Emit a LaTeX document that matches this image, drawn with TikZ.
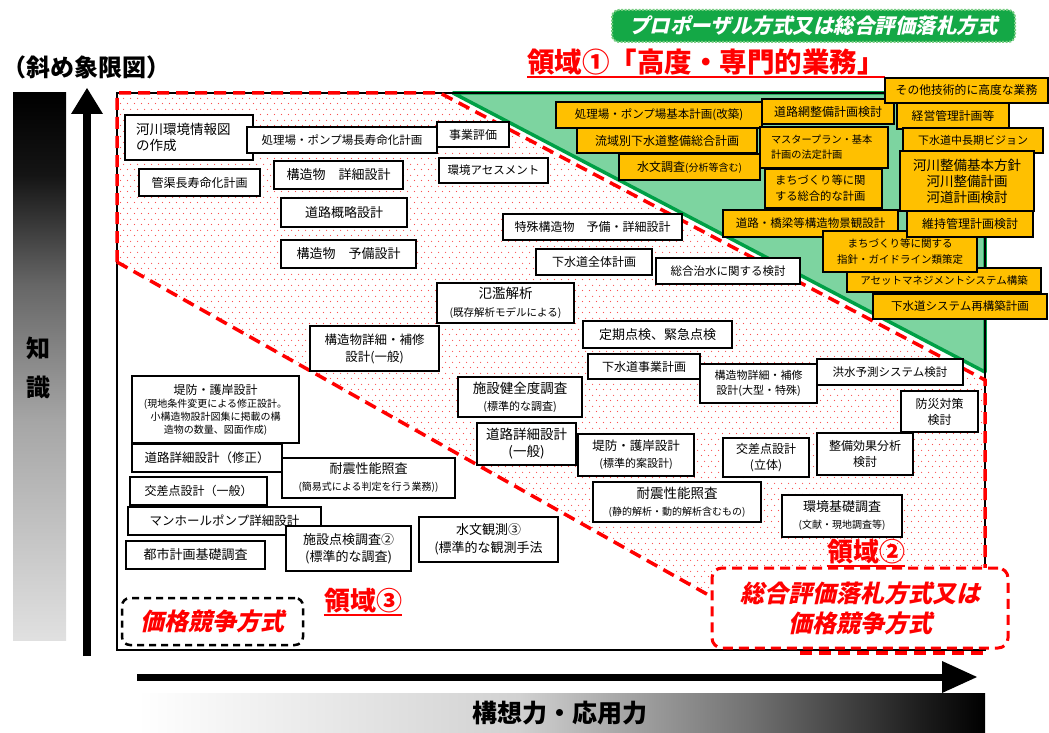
\documentclass[tikz,border=0pt]{standalone}
\usepackage{fontspec}
\setmainfont{Noto Sans CJK JP}
\newfontfamily\jpsl{Noto Sans CJK JP}[FakeSlant=0.22]
\usetikzlibrary{patterns.meta}
\definecolor{byel}{RGB}{255,192,0}
\definecolor{mint}{RGB}{125,212,160}
\definecolor{dgreen}{RGB}{0,160,70}
\definecolor{tgreen}{RGB}{20,168,70}
\definecolor{tgreenb}{RGB}{120,205,130}
\definecolor{rred}{RGB}{255,0,0}
\definecolor{dotred}{RGB}{250,80,80}
\pgfdeclareverticalshading{vbarshade}{100bp}{color(0bp)=(black!12); color(25bp)=(black!12); color(45bp)=(black!35); color(57.5bp)=(black!60); color(67.5bp)=(black!92); color(75bp)=(black); color(100bp)=(black)}
\pgfdeclarehorizontalshading{hbarshade}{100bp}{color(0bp)=(white); color(25bp)=(white); color(47.5bp)=(black!18); color(61bp)=(black!55); color(71bp)=(black!88); color(75bp)=(black); color(100bp)=(black)}
\tikzdeclarepattern{
  name=pdots,
  type=uncolored,
  bottom left={(0pt,0pt)},
  top right={(7pt,11pt)},
  tile size={(7pt,11pt)},
  code={
    \pgfpathcircle{\pgfpoint{1.75pt}{2.75pt}}{0.7pt}
    \pgfpathcircle{\pgfpoint{5.25pt}{8.25pt}}{0.7pt}
    \pgfusepath{fill}
  }
}
\newcommand{\fsz}[2]{\fontsize{#1}{#2}\selectfont}
\newcommand{\bx}[7]{\node[#1, minimum width={(#5-#3)*1pt}, minimum height={(#6-#4)*1pt}] (#2) at ({(#3+#5)/2},{(#4+#6)/2}) {#7};}
\begin{document}
\begin{tikzpicture}[x=1pt,y=-1pt,
  wb/.style={draw=black, line width=1.3pt, fill=white, inner sep=1pt, align=center},
  yb/.style={wb, fill=byel},
  lbox/.style 2 args={align=left, inner xsep=#1pt, text width=#2pt},
  rd/.style={rred, line width=3.5pt, dash pattern=on 12pt off 7pt},
  ul/.style={rred, line width=1.8pt},
  big/.style={font=\bfseries\fsz{#1}{30}}
]
\useasboundingbox (0,0) rectangle (1049,733);
% gradient bars
\shade[shading=vbarshade] (13,93) rectangle (66,640);
\node[big=24] (zhi) at (39,348) {知};
\node[big=24] (shiki) at (39,387) {識};
\shade[shading=hbarshade] (137,693) rectangle (985,733);
\node[big=25] (kousou) at (560,713) {構想力・応用力};
% axes
\coordinate (vbot) at (87,656);
\coordinate (vend) at (87,108);
\coordinate (vtip) at (87,88);
\draw[line width=8pt] (vbot) -- (vend);
\fill (71,114) -- (vtip) -- (103,114) -- cycle;
\coordinate (hbeg) at (137,677);
\coordinate (hend) at (950,677);
\coordinate (htip) at (977,677);
\draw[line width=7pt] (hbeg) -- (hend);
\fill (942,661) -- (htip) -- (942,693) -- cycle;
% regions
\fill[pattern=pdots, pattern color=dotred] (117,93) -- (440,93) -- (985,380) -- (985,568) -- (712,568) -- (712,597) -- (117,262) -- cycle;
\fill[mint] (453,93) -- (985,93) -- (985,372) -- cycle;
\draw[dgreen, line width=3.5pt, line join=round] (985,372) -- (453,93) -- (985,93) -- cycle;
\draw[line width=2pt] (117,93) rectangle (985,650);
\draw[rd] (117,262) -- (117,93) -- (440,93) -- (985,380) -- (985,568);
\draw[rd] (117,262) -- (712,597);
\draw[rd] (800,653) -- (985,653);
% titles
\node[draw=tgreenb, line width=2pt, dash pattern=on 2pt off 1.5pt, fill=tgreen, rounded corners=7pt, minimum width=403, minimum height=32, text=white, font=\jpsl\bfseries\fsz{20.5}{24}] (ttl) at (813.5,26) {プロポーザル方式又は総合評価落札方式};
\node[big=24, inner sep=0] (title2) at (86,67) {（斜め象限図）};
\node[anchor=west, text=rred, inner sep=0, font=\bfseries\fsz{27.5}{30}] (r1) at (527,62) {領域①「高度・専門的業務」};
\draw[ul] ([yshift=-1.5pt]r1.south west) -- ([yshift=-1.5pt]r1.south east);
\node[text=rred, inner sep=0, font=\bfseries\fsz{26}{30}] (r3) at (363,601) {領域③};
\draw[ul] ([yshift=-1.5pt]r3.south west) -- ([yshift=-1.5pt]r3.south east);
\node[text=rred, inner sep=0, font=\bfseries\fsz{26}{30}] (r2) at (866,552) {領域②};
\draw[ul] ([yshift=-1.5pt]r2.south west) -- ([yshift=-1.5pt]r2.south east);
\node[draw=black, line width=2.5pt, dash pattern=on 7pt off 5pt, rounded corners=8pt, minimum width=181, minimum height=47, text=rred, font=\jpsl\bfseries\fsz{24}{28}] (p3) at (212.5,621.5) {価格競争方式};
\node[draw=rred, line width=3pt, dash pattern=on 10pt off 6pt, rounded corners=10pt, fill=white, minimum width=296, minimum height=80, align=center, text=rred, font=\jpsl\bfseries\fsz{24}{30}] (p2) at (860,608) {総合評価落札方式又は\\価格競争方式};
% white boxes
\bx{wb,lbox={11}{106},font=\fsz{13.5}{16}}{b1}{125}{115}{253}{160}{河川環境情報図\\の作成}
\bx{wb,font=\fsz{11.5}{14}}{b2}{247}{127}{437}{153}{処理場・ポンプ場長寿命化計画}
\bx{wb,font=\fsz{12}{15}}{b3}{139}{169}{260}{196}{管渠長寿命化計画}
\bx{wb,font=\fsz{13}{16}}{b4}{274}{161}{403}{189}{構造物　詳細設計}
\bx{wb,font=\fsz{13}{16}}{b5}{281}{198}{407}{227}{道路概略設計}
\bx{wb,font=\fsz{13}{16}}{b6}{281}{240}{416}{268}{構造物　予備設計}
\bx{wb,font=\fsz{12}{15}}{b7}{437}{122}{509}{147}{事業評価}
\bx{wb,font=\fsz{11.5}{14}}{b8}{439}{158}{548}{183}{環境アセスメント}
\bx{wb,font=\fsz{12}{15}}{b9}{503}{214}{682}{240}{特殊構造物　予備・詳細設計}
\bx{wb,font=\fsz{12}{15}}{b10}{536}{249}{652}{275}{下水道全体計画}
\bx{wb,font=\fsz{11.5}{14}}{b11}{656}{258}{800}{284}{総合治水に関する検討}
\bx{wb,font=\fsz{12.5}{17}}{b27}{310}{326}{439}{371}{構造物詳細・補修\\設計(一般)}
\bx{wb,font=\fsz{12}{13}}{b28}{132}{376}{299}{443}{堤防・護岸設計\\{\fsz{10}{12}(現地条件変更による修正設計。}\\{\fsz{10}{12}小構造物設計図集に掲載の構}\\{\fsz{10}{12}造物の数量、図面作成)}}
\bx{wb,font=\fsz{12.5}{15}}{b29}{132}{444}{282}{472}{道路詳細設計（修正）}
\bx{wb,font=\fsz{13}{17}}{b30}{282}{458}{455}{498}{耐震性能照査\\{\fsz{10}{12}(簡易式による判定を行う業務))}}
\bx{wb,font=\fsz{12}{15}}{b31}{130}{477}{267}{505}{交差点設計（一般）}
\bx{wb,font=\fsz{12.5}{15}}{b32}{128}{507}{321}{535}{マンホールポンプ詳細設計}
\bx{wb,font=\fsz{13}{17}}{b33}{286}{526}{411}{571}{施設点検調査②\\(標準的な調査)}
\bx{wb,font=\fsz{13}{15}}{b34}{126}{541}{265}{569}{都市計画基礎調査}
\bx{wb,font=\fsz{13.5}{17}}{b35}{593}{482}{761}{522}{耐震性能照査\\{\fsz{10}{12}(静的解析・動的解析含むもの)}}
\bx{wb,font=\fsz{13}{17}}{b36}{782}{495}{902}{537}{環境基礎調査\\{\fsz{10}{12}(文献・現地調査等)}}
\bx{wb,font=\fsz{13}{18}}{b37}{419}{517}{558}{562}{水文観測③\\(標準的な観測手法}
\bx{wb,font=\fsz{13.5}{18}}{b38}{437}{283}{574}{323}{氾濫解析\\{\fsz{10.5}{12}(既存解析モデルによる)}}
\bx{wb,font=\fsz{13}{15}}{b39}{583}{321}{732}{348}{定期点検、緊急点検}
\bx{wb,font=\fsz{12}{15}}{b40}{588}{354}{700}{379}{下水道事業計画}
\bx{wb,font=\fsz{13.5}{17}}{b41}{458}{377}{582}{417}{施設健全度調査\\{\fsz{11}{12}(標準的な調査)}}
\bx{wb,font=\fsz{13.5}{17}}{b42}{477}{423}{576}{465}{道路詳細設計\\(一般)}
\bx{wb,font=\fsz{12.5}{17}}{b43}{578}{434}{694}{476}{堤防・護岸設計\\{\fsz{11}{12}(標準的案設計)}}
\bx{wb,font=\fsz{11}{15}}{b44}{700}{364}{817}{403}{構造物詳細・補修\\設計(大型・特殊)}
\bx{wb,font=\fsz{12}{16}}{b45}{723}{438}{809}{477}{交差点設計\\(立体)}
\bx{wb,font=\fsz{11.5}{14}}{b46}{817}{359}{963}{385}{洪水予測システム検討}
\bx{wb,font=\fsz{12}{16}}{b47}{901}{391}{978}{432}{防災対策\\検討}
\bx{wb,font=\fsz{12}{16}}{b48}{817}{433}{913}{475}{整備効果分析\\検討}
% yellow boxes
\bx{yb,font=\fsz{11.5}{14}}{y12}{556}{102}{762}{128}{処理場・ポンプ場基本計画(改築)}
\bx{yb,font=\fsz{12}{15}}{y13}{577}{128}{757}{153}{流域別下水道整備総合計画}
\bx{yb,font=\fsz{12}{15}}{y14}{619}{154}{760}{180}{水文調査{\fsz{10}{12}(分析等含む)}}
\bx{yb,font=\fsz{12}{15}}{y17}{762}{99}{894}{124}{道路網整備計画検討}
\bx{yb,lbox={11}{106},font=\fsz{10.2}{15}}{y19}{760}{127}{888}{168}{マスタープラン・基本\\計画の法定計画}
\bx{yb,lbox={10}{97},font=\fsz{11.3}{16}}{y21}{765}{169}{882}{208}{まちづくり等に関\\する総合的な計画}
\bx{yb,font=\fsz{11.8}{14}}{y16}{885}{78}{1048}{103}{その他技術的に高度な業務}
\bx{yb,font=\fsz{11.8}{14}}{y18}{897}{103}{1009}{129}{経営管理計画等}
\bx{yb,font=\fsz{11}{14}}{y20}{903}{128}{1043}{153}{下水道中長期ビジョン}
\bx{yb,font=\fsz{13.5}{16}}{y22}{900}{151}{1034}{211}{河川整備基本方針\\河川整備計画\\河道計画検討}
\bx{yb,font=\fsz{11.5}{14}}{y15}{723}{210}{898}{237}{道路・橋梁等構造物景観設計}
\bx{yb,font=\fsz{10.5}{13}}{y25}{847}{268}{1041}{292}{アセットマネジメントシステム構築}
\bx{yb,font=\fsz{10.5}{16}}{y24}{823}{231}{977}{272}{まちづくり等に関する\\指針・ガイドライン類策定}
\bx{yb,font=\fsz{12}{15}}{y23}{907}{211}{1033}{237}{維持管理計画検討}
\bx{yb,font=\fsz{11.5}{14}}{y26}{873}{294}{1047}{319}{下水道システム再構築計画}
\end{tikzpicture}
\end{document}
